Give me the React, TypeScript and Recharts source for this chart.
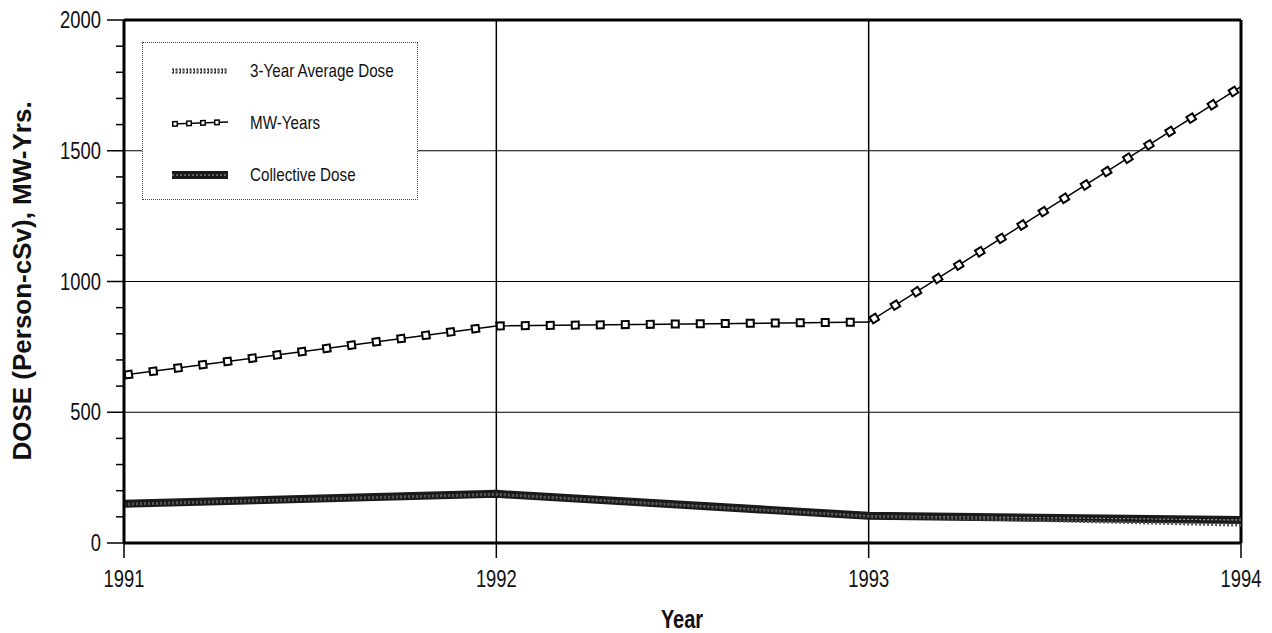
import { LineChart, Line, XAxis, YAxis, ReferenceLine, Legend } from "recharts";

const YEARS = [1991, 1992, 1993, 1994];
const MW_YEARS = [642, 830, 845, 1745];
const COLLECTIVE_DOSE = [150, 188, 104, 88];
const AVG_DOSE_3YR = [148, 186, 102, 68];

const X_TICKS = [1991, 1992, 1993, 1994];
const Y_TICKS = [0, 100, 200, 300, 400, 500, 600, 700, 800, 900, 1000, 1100, 1200, 1300, 1400, 1500, 1600, 1700, 1800, 1900, 2000];
const GRID_X = [1992, 1993];
const GRID_Y = [500, 1000, 1500];

const LEGEND_ITEMS = ["3-Year Average Dose", "MW-Years", "Collective Dose"];

const data = YEARS.map((year, i) => ({
  year,
  mw: MW_YEARS[i],
  dose: COLLECTIVE_DOSE[i],
  avg: AVG_DOSE_3YR[i],
}));

// no narrow face installed, so squeeze Liberation Sans horizontally
const FONT = '"Liberation Sans", Arial, sans-serif';
const SQUEEZE = 0.8;

function XTick(props: any) {
  const { x, y, payload } = props;
  return (
    <g>
      <line x1={x} y1={y} x2={x} y2={y + 15} stroke="#000" strokeWidth={1.5} />
      <g transform={`translate(${x}, ${y + 44}) scale(${SQUEEZE}, 1)`}>
        <text x={0} y={0} textAnchor="middle" fontSize={23} fontFamily={FONT} fill="#111">
          {payload.value}
        </text>
      </g>
    </g>
  );
}

function YTick(props: any) {
  const { x, y, payload } = props;
  const major = payload.value % 500 === 0;
  return (
    <g>
      <line x1={x - (major ? 17 : 8)} y1={y} x2={x} y2={y} stroke="#000" strokeWidth={1.5} />
      {major && (
        <g transform={`translate(${x - 23}, ${y + 8}) scale(${SQUEEZE}, 1)`}>
          <text x={0} y={0} textAnchor="end" fontSize={23} fontFamily={FONT} fill="#111">
            {payload.value}
          </text>
        </g>
      )}
    </g>
  );
}

function Sample({ kind }: { kind: number }) {
  if (kind === 0) {
    return (
      <svg width={56} height={12}>
        <line x1={0} y1={6} x2={56} y2={6} stroke="#333" strokeWidth={5} strokeDasharray="2 1.5" />
        <line x1={0} y1={6} x2={56} y2={6} stroke="#fff" strokeWidth={1.5} strokeDasharray="1 2.5" />
      </svg>
    );
  }
  if (kind === 1) {
    return (
      <svg width={56} height={12}>
        <line x1={0} y1={7} x2={56} y2={5} stroke="#000" strokeWidth={1.5} />
        <line x1={0} y1={7} x2={56} y2={5} stroke="#000" strokeWidth={6} strokeDasharray="6 8" />
        <line x1={0} y1={7} x2={56} y2={5} stroke="#fff" strokeWidth={3} strokeDasharray="0 1.5 3 9.5" />
      </svg>
    );
  }
  return (
    <svg width={56} height={12}>
      <line x1={0} y1={6} x2={56} y2={6} stroke="#1a1a1a" strokeWidth={8} />
      <line x1={0} y1={6} x2={56} y2={6} stroke="#aaa" strokeWidth={1.2} strokeDasharray="2 2" />
    </svg>
  );
}

function LegendBox() {
  return (
    <div
      style={{
        position: "relative",
        width: 276,
        height: 158,
        border: "1.5px dotted #444",
        boxSizing: "border-box",
        background: "#fff",
        fontFamily: FONT,
        fontSize: 19,
        color: "#111",
      }}
    >
      {LEGEND_ITEMS.map((name, i) => (
        <div
          key={name}
          style={{ position: "absolute", left: 29, top: 15 + i * 52, height: 26, display: "flex", alignItems: "center", whiteSpace: "nowrap" }}
        >
          <Sample kind={i} />
          <span style={{ marginLeft: 22, display: "inline-block", transform: `scaleX(${SQUEEZE})`, transformOrigin: "left center" }}>
            {name}
          </span>
        </div>
      ))}
    </div>
  );
}

export default function App() {
  return (
    <LineChart
      width={1264}
      height={625}
      data={data}
      margin={{ top: 12, right: 31, bottom: 0, left: 0 }}
      style={{ background: "#fff" }}
    >
      <XAxis
        dataKey="year"
        type="number"
        domain={[1991, 1994]}
        ticks={X_TICKS}
        interval={0}
        height={90}
        tickSize={0}
        tickMargin={0}
        tickLine={false}
        tick={<XTick />}
        axisLine={{ stroke: "#000", strokeWidth: 3 }}
        label={{
          content: () => (
            <g transform={`translate(674, 620) scale(${SQUEEZE}, 1)`}>
              <text x={0} y={0} textAnchor="middle" fontSize={25} fontWeight="bold" fontFamily={FONT} fill="#111">
                Year
              </text>
            </g>
          ),
        }}
      />
      <YAxis
        type="number"
        domain={[0, 2000]}
        ticks={Y_TICKS}
        interval={0}
        width={116}
        tickSize={0}
        tickMargin={0}
        tickLine={false}
        tick={<YTick />}
        axisLine={{ stroke: "#000", strokeWidth: 3 }}
        label={{
          content: () => (
            <text
              x={14}
              y={273}
              transform="rotate(-90, 14, 273)"
              textAnchor="middle"
              dominantBaseline="central"
              fontSize={26}
              fontWeight="bold"
              fontFamily={FONT}
              fill="#111"
            >
              DOSE (Person-cSv), MW-Yrs.
            </text>
          ),
        }}
      />
      {GRID_Y.map((v) => (
        <ReferenceLine key={`gy${v}`} y={v} stroke="#000" strokeWidth={1.2} />
      ))}
      {GRID_X.map((v) => (
        <ReferenceLine key={`gx${v}`} x={v} stroke="#000" strokeWidth={1.5} />
      ))}
      <ReferenceLine y={2000} stroke="#000" strokeWidth={3} />
      <ReferenceLine x={1994} stroke="#000" strokeWidth={3} />

      <Line dataKey="dose" type="linear" stroke="#1a1a1a" strokeWidth={8} dot={false} isAnimationActive={false} />
      <Line dataKey="dose" type="linear" stroke="#9a9a9a" strokeWidth={1.2} strokeDasharray="2 2" dot={false} isAnimationActive={false} />
      <Line dataKey="avg" type="linear" stroke="#555" strokeWidth={3} strokeDasharray="2 2" dot={false} isAnimationActive={false} />

      <Line dataKey="mw" type="linear" stroke="#000" strokeWidth={1.5} dot={false} isAnimationActive={false} />
      <Line dataKey="mw" type="linear" stroke="#000" strokeWidth={9} strokeDasharray="9 16" dot={false} isAnimationActive={false} />
      <Line dataKey="mw" type="linear" stroke="#fff" strokeWidth={5} strokeDasharray="0 2 5 18" dot={false} isAnimationActive={false} />

      <Legend
        layout="vertical"
        align="center"
        verticalAlign="middle"
        wrapperStyle={{ left: 134, top: 34, width: 276 }}
        content={() => <LegendBox />}
      />
    </LineChart>
  );
}
